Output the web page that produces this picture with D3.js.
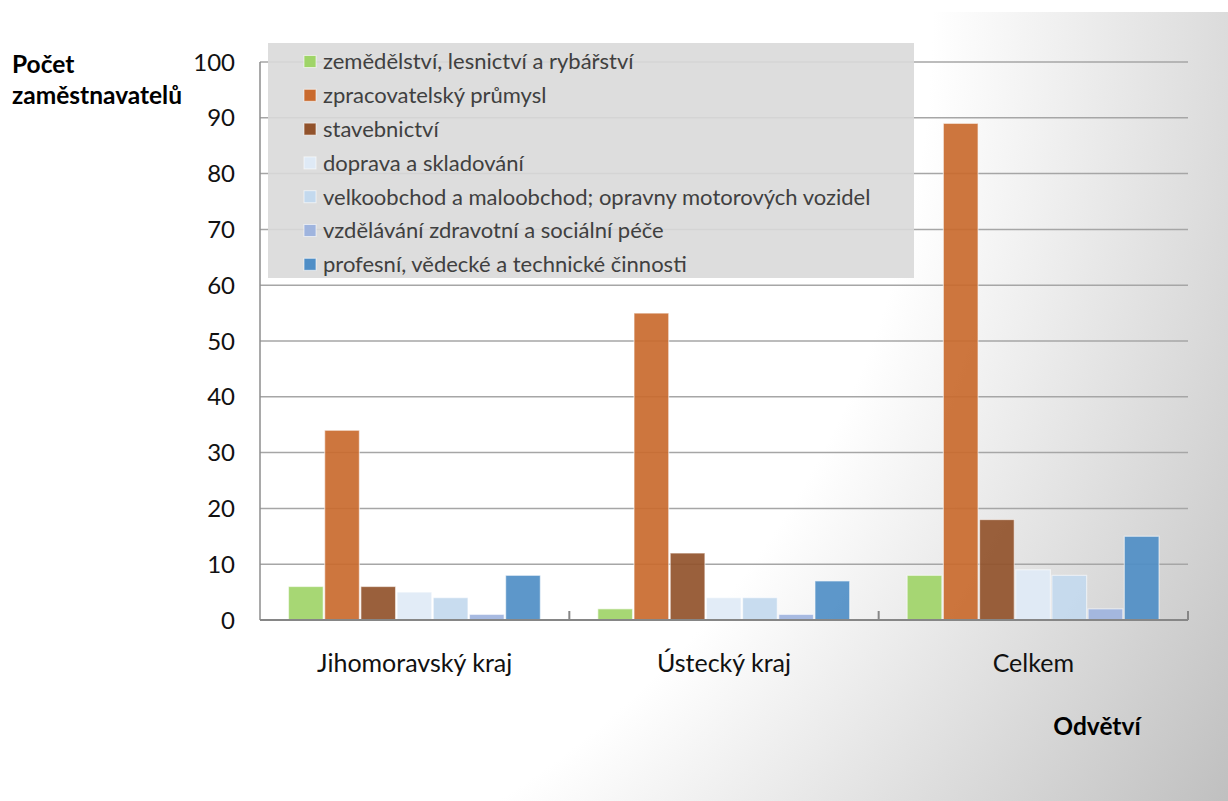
<!DOCTYPE html>
<html>
<head>
<meta charset="utf-8">
<script src="https://cdn.jsdelivr.net/npm/d3@7"></script>
<style>
  body { margin: 0; background: #fff; }
  svg text { font-family: Lato, "Open Sans", sans-serif; }
</style>
</head>
<body>
<script>
const categories = ["Jihomoravský kraj", "Ústecký kraj", "Celkem"];
const series = [
  "zemědělství, lesnictví a rybářství",
  "zpracovatelský průmysl",
  "stavebnictví",
  "doprava a skladování",
  "velkoobchod a maloobchod; opravny motorových vozidel",
  "vzdělávání zdravotní a sociální péče",
  "profesní, vědecké a technické činnosti"
];
const colors = ["#9fd468", "#c96a2e", "#91522b", "#dfeaf6", "#c3d9ee", "#9fb4de", "#4f8ec6"];
const zemedelstvi = [6, 2, 8];
const prumysl = [34, 55, 89];
const stavebnictvi = [6, 12, 18];
const doprava = [5, 4, 9];
const obchod = [4, 4, 8];
const vzdelavani = [1, 1, 2];
const profesni = [8, 7, 15];
const yTicks = [0, 10, 20, 30, 40, 50, 60, 70, 80, 90, 100];

const values = [zemedelstvi, prumysl, stavebnictvi, doprava, obchod, vzdelavani, profesni];

const W = 1228, H = 801;
const margin = {top: 62, right: 40, bottom: 181, left: 260},
      width = W - margin.left - margin.right,
      height = H - margin.top - margin.bottom;

const svg = d3.select("body").append("svg")
  .attr("width", W)
  .attr("height", H);

// background gradient
const defs = svg.append("defs");
const grad = defs.append("radialGradient")
  .attr("id", "bg")
  .attr("gradientUnits", "userSpaceOnUse")
  .attr("cx", 0).attr("cy", 12).attr("r", 1480);
grad.append("stop").attr("offset", "0.63").attr("stop-color", "#ffffff");
grad.append("stop").attr("offset", "1").attr("stop-color", "#bdbdbd");

svg.append("rect")
  .attr("x", 0).attr("y", 12)
  .attr("width", W).attr("height", H - 12)
  .attr("fill", "url(#bg)");

const g = svg.append("g").attr("transform", "translate(" + margin.left + "," + margin.top + ")");

const y = d3.scaleLinear().domain([0, 100]).range([height, 0]);
const x0 = d3.scaleBand().domain(categories).range([0, width]);
const x1 = d3.scaleBand().domain(d3.range(series.length))
  .range([28, x0.bandwidth() - 28]);

// gridlines
g.append("g").selectAll("line")
  .data(yTicks.filter(d => d > 0))
  .enter().append("line")
    .attr("x1", 0).attr("x2", width)
    .attr("y1", d => y(d)).attr("y2", d => y(d))
    .attr("stroke", "#a6a6a6")
    .attr("stroke-width", 1.5);

// y axis line
g.append("line")
  .attr("x1", 0).attr("x2", 0)
  .attr("y1", y(100)).attr("y2", y(0))
  .attr("stroke", "#8c8c8c").attr("stroke-width", 1.5);

// y tick labels
g.append("g").selectAll("text")
  .data(yTicks)
  .enter().append("text")
    .attr("x", -25)
    .attr("y", d => y(d))
    .attr("dy", "0.36em")
    .attr("text-anchor", "end")
    .style("font-size", "24px")
    .attr("fill", "#111")
    .text(d => d);

// bars
const groups = g.append("g").selectAll("g")
  .data(categories)
  .enter().append("g")
    .attr("transform", d => "translate(" + x0(d) + ",0)");

groups.selectAll("rect")
  .data((d, ci) => values.map((v, si) => ({si: si, v: v[ci]})))
  .enter().append("rect")
    .attr("x", d => x1(d.si) + 0.5)
    .attr("y", d => y(d.v))
    .attr("width", x1.bandwidth() - 1.5)
    .attr("height", d => y(0) - y(d.v))
    .attr("fill", d => colors[d.si])
    .attr("fill-opacity", 0.92)
    .attr("stroke", "#ffffff")
    .attr("stroke-opacity", 0.55)
    .attr("stroke-width", 1.2);

// x axis
g.append("line")
  .attr("x1", 0).attr("x2", width)
  .attr("y1", y(0)).attr("y2", y(0))
  .attr("stroke", "#868686").attr("stroke-width", 2);

g.append("g").selectAll("line")
  .data(categories)
  .enter().append("line")
    .attr("x1", d => x0(d) + x0.bandwidth())
    .attr("x2", d => x0(d) + x0.bandwidth())
    .attr("y1", y(0)).attr("y2", y(0) - 9)
    .attr("stroke", "#868686").attr("stroke-width", 2);

g.append("g").selectAll("text")
  .data(categories)
  .enter().append("text")
    .attr("x", d => x0(d) + x0.bandwidth() / 2)
    .attr("y", height + 43)
    .attr("dy", "0.36em")
    .attr("text-anchor", "middle")
    .style("font-size", "25px")
    .attr("fill", "#111")
    .text(d => d);

// axis titles
svg.append("text")
  .attr("x", 1097).attr("y", 735)
  .attr("text-anchor", "middle")
  .style("font-size", "24.5px").style("font-weight", "bold")
  .text("Odvětví");

const yt = svg.append("text")
  .attr("x", 12).attr("y", 73)
  .style("font-size", "24.5px").style("font-weight", "bold");
yt.append("tspan").attr("x", 12).text("Počet");
yt.append("tspan").attr("x", 12).attr("dy", 31).text("zaměstnavatelů");

// legend
const legend = svg.append("g").attr("transform", "translate(268,43)");
legend.append("rect")
  .attr("width", 646).attr("height", 235)
  .attr("fill", "#d9d9d9").attr("fill-opacity", 0.9);

const item = legend.selectAll("g.item")
  .data(series)
  .enter().append("g")
    .attr("class", "item")
    .attr("transform", (d, i) => "translate(0," + (18.5 + i * 33.8) + ")");

item.append("rect")
  .attr("x", 36).attr("y", -6)
  .attr("width", 12).attr("height", 12)
  .attr("fill", (d, i) => colors[i])
  .attr("stroke", "#ffffff").attr("stroke-opacity", 0.6).attr("stroke-width", 1);

item.append("text")
  .attr("x", 55).attr("dy", "0.36em")
  .style("font-size", "22px")
  .attr("fill", "#404040")
  .text(d => d);
</script>
</body>
</html>
